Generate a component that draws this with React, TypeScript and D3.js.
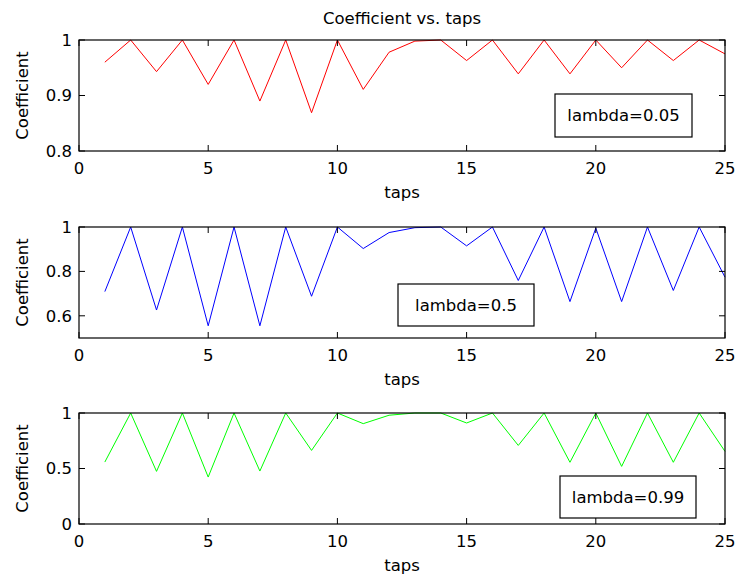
import * as React from "react"
import * as d3 from "d3"

const taps = d3.range(1, 26)

const coefLow = [
  0.96, 1.0, 0.943, 1.0, 0.92, 1.0, 0.89, 1.0, 0.869, 1.0, 0.911, 0.978, 0.998,
  1.0, 0.963, 1.0, 0.939, 1.0, 0.939, 1.0, 0.95, 1.0, 0.963, 1.0, 0.975,
]
const coefMid = [
  0.709, 1.0, 0.626, 1.0, 0.555, 1.0, 0.555, 1.0, 0.688, 1.0, 0.903, 0.975, 0.997,
  1.0, 0.915, 1.0, 0.759, 1.0, 0.664, 0.995, 0.664, 1.0, 0.714, 1.0, 0.774,
]
const coefHigh = [
  0.558, 1.0, 0.474, 1.0, 0.423, 1.0, 0.477, 1.0, 0.663, 1.0, 0.904, 0.98, 1.0,
  1.0, 0.91, 1.0, 0.708, 1.0, 0.556, 1.0, 0.519, 1.0, 0.556, 1.0, 0.654,
]

const xTicks = [0, 5, 10, 15, 20, 25]
const yDomains: [number, number][] = [
  [0.8, 1],
  [0.5, 1],
  [0, 1],
]
const yTicks = [
  [0.8, 0.9, 1],
  [0.6, 0.8, 1],
  [0, 0.5, 1],
]
const lambdaLabels = ["lambda=0.05", "lambda=0.5", "lambda=0.99"]
const colors = ["#ff0000", "#0000ff", "#00ff00"]
const series = [coefLow, coefMid, coefHigh]

const W = 736
const H = 578
const left = 79
const right = 725
const tops = [40, 227, 413]
const plotH = 111
// legend box placement relative to the plot area (x, y, w, h)
const boxes = [
  [476, 54, 137, 43],
  [319, 57, 136, 42],
  [481, 63, 136, 42],
]
const font = "DejaVu Sans, sans-serif"
const fs = 16.5

function Panel({ idx }: { idx: number }) {
  const top = tops[idx]
  const x = d3.scaleLinear().domain([0, 25]).range([left, right])
  const y = d3.scaleLinear().domain(yDomains[idx]).range([top + plotH, top])
  const line = d3
    .line<number>()
    .x((_d, i) => x(taps[i]))
    .y((d) => y(d))
  const fmt = (v: number) => (v === 0 || v === 1 ? String(v) : String(v))
  const [bx, by, bw, bh] = boxes[idx]
  return (
    <g>
      <path d={line(series[idx]) ?? ""} fill="none" stroke={colors[idx]} strokeWidth={1} />
      <rect x={left} y={top} width={right - left} height={plotH} fill="none" stroke="#000" strokeWidth={1.2} />
      {xTicks.map((t) => (
        <g key={"x" + t}>
          <line x1={x(t)} x2={x(t)} y1={top + plotH} y2={top + plotH - 6} stroke="#000" />
          <line x1={x(t)} x2={x(t)} y1={top} y2={top + 6} stroke="#000" />
          <text x={x(t)} y={top + plotH + 23} textAnchor="middle" fontSize={fs} fontFamily={font} fill="#000">
            {t}
          </text>
        </g>
      ))}
      {yTicks[idx].map((t) => (
        <g key={"y" + t}>
          <line x1={left} x2={left + 6} y1={y(t)} y2={y(t)} stroke="#000" />
          <line x1={right} x2={right - 6} y1={y(t)} y2={y(t)} stroke="#000" />
          <text x={left - 7} y={y(t)} dy="0.36em" textAnchor="end" fontSize={fs} fontFamily={font} fill="#000">
            {fmt(t)}
          </text>
        </g>
      ))}
      <text x={(left + right) / 2} y={top + plotH + 47} textAnchor="middle" fontSize={fs} fontFamily={font} fill="#000">
        taps
      </text>
      <text
        transform={`translate(28, ${top + plotH / 2}) rotate(-90)`}
        textAnchor="middle"
        fontSize={fs}
        fontFamily={font}
        fill="#000"
      >
        Coefficient
      </text>
      <rect x={left + bx} y={top + by} width={bw} height={bh} fill="#fff" stroke="#000" strokeWidth={1.2} />
      <text
        x={left + bx + bw / 2}
        y={top + by + bh / 2}
        dy="0.36em"
        textAnchor="middle"
        fontSize={fs}
        fontFamily={font}
        fill="#000"
      >
        {lambdaLabels[idx]}
      </text>
    </g>
  )
}

export default function App() {
  return (
    <svg width={W} height={H} style={{ position: "absolute", left: 0, top: 0, background: "#fff" }}>
      <rect width={W} height={H} fill="#fff" />
      <text x={(left + right) / 2} y={24} textAnchor="middle" fontSize={fs} fontFamily={font} fill="#000">
        Coefficient vs. taps
      </text>
      {[0, 1, 2].map((i) => (
        <Panel key={i} idx={i} />
      ))}
    </svg>
  )
}
